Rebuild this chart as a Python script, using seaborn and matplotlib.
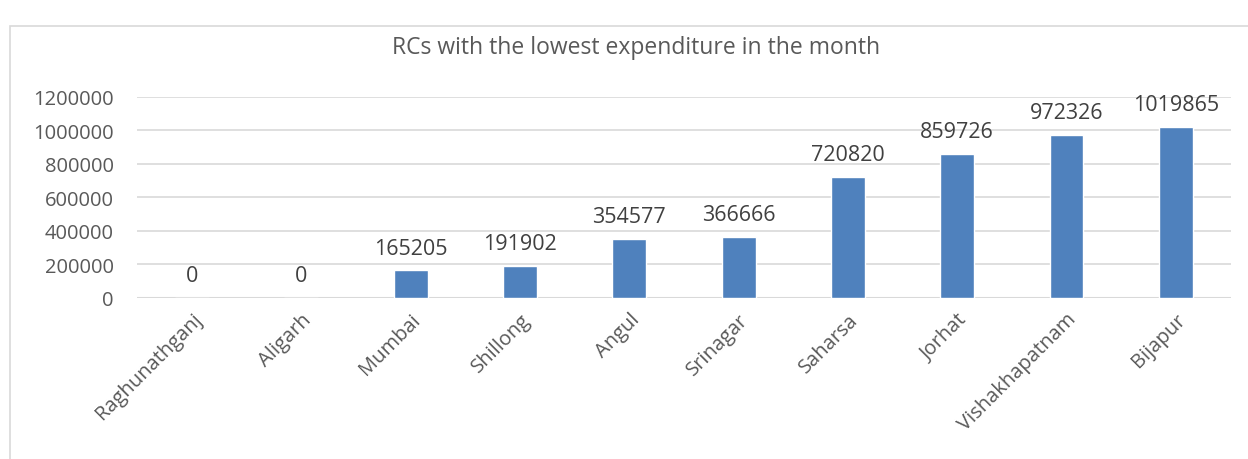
import matplotlib.pyplot as plt
import matplotlib.patches as mpatches
import pandas as pd
import seaborn as sns

rcs = ["Raghunathganj", "Aligarh", "Mumbai", "Shillong", "Angul", "Srinagar",
       "Saharsa", "Jorhat", "Vishakhapatnam", "Bijapur"]
expenditure = [0, 0, 165205, 191902, 354577, 366666, 720820, 859726, 972326, 1019865]
yticks = [0, 200000, 400000, 600000, 800000, 1000000, 1200000]

df = pd.DataFrame({"rc": rcs, "expenditure": expenditure})

sns.set_style("white")
plt.rcParams["font.family"] = ["Open Sans", "DejaVu Sans"]
grey = "#595959"

fig = plt.figure(figsize=(12.48, 4.6), dpi=100)
ax = fig.add_axes([0.11, 0.35, 0.876, 0.437])

## chart border
fig.patches.append(mpatches.Rectangle((10 / 1248, -0.01), 1.0, 1 - 27 / 460 + 0.01,
                                      transform=fig.transFigure, fill=False,
                                      edgecolor="#d9d9d9", linewidth=1.2))

sns.barplot(data=df, x="rc", y="expenditure", color="#4f81bd", width=0.31,
            saturation=1, ax=ax, zorder=3)

ax.set_ylim(0, 1200000)
ax.set_yticks(yticks)
ax.set_yticklabels([str(t) for t in yticks], fontsize=14.5, color=grey)
ax.yaxis.grid(True, color="#d9d9d9", linewidth=1.2, zorder=0)
ax.set_axisbelow(True)
for s in ax.spines.values():
    s.set_visible(False)
ax.axhline(0, color="#d9d9d9", linewidth=1.5, zorder=2)
ax.tick_params(axis="y", length=0, pad=17)
ax.tick_params(axis="x", length=0, pad=8)
ax.set_xlim(-0.5, len(rcs) - 0.5)
ax.set_xlabel("")
ax.set_ylabel("")
ax.set_xticks(range(len(rcs)))
ax.set_xticklabels(rcs, rotation=45, ha="right", rotation_mode="anchor",
                   fontsize=14.5, color=grey)

for i, v in enumerate(expenditure):
    ax.text(i, v + 100000, str(v), ha="center", va="baseline", fontsize=15.5, color="#404040")

fig.text(0.51, 1 - 48 / 460, "RCs with the lowest expenditure in the month",
         ha="center", va="center", fontsize=16.5, color=grey)

plt.savefig("out.png", dpi=100)
